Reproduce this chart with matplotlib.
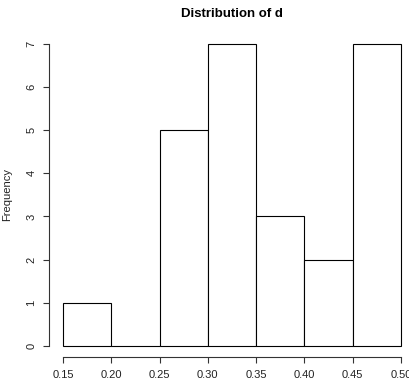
import matplotlib
matplotlib.use("Agg")
import matplotlib.pyplot as plt
import numpy as np

plt.rcParams["font.family"] = ["Liberation Sans", "DejaVu Sans"]

bin_edges = [0.15, 0.20, 0.25, 0.30, 0.35, 0.40, 0.45, 0.50]
counts = [1, 0, 5, 7, 3, 2, 7]
x_ticks = [0.15, 0.20, 0.25, 0.30, 0.35, 0.40, 0.45, 0.50]
y_ticks = [0, 1, 2, 3, 4, 5, 6, 7]

W, H = 410, 390
fig = plt.figure(figsize=(W / 100, H / 100), dpi=100)
ax = fig.add_axes([63 / W, 1 - 345.7 / H, (401 - 63) / W, (345.7 - 44) / H])

lefts = np.array(bin_edges[:-1])
widths = np.diff(bin_edges)
ax.bar(lefts, counts, widths, align="edge", facecolor="white",
       edgecolor="black", linewidth=0.8, clip_on=False)

ax.set_xlim(0.15, 0.50)
ax.set_ylim(0, 7)
for s in ("top", "right"):
    ax.spines[s].set_visible(False)
ax.spines["left"].set_position(("outward", 9.8))
ax.spines["bottom"].set_position(("outward", 8.2))
ax.spines["left"].set_bounds(0, 7)
ax.spines["bottom"].set_bounds(0.15, 0.50)
for s in ("left", "bottom"):
    ax.spines[s].set_color("#333333")
    ax.spines[s].set_linewidth(0.8)

ax.set_xticks(x_ticks)
ax.set_xticklabels([f"{v:.2f}" for v in x_ticks])
ax.set_yticks(y_ticks)
ax.set_yticklabels([str(v) for v in y_ticks], rotation=90, va="center")
ax.tick_params(axis="both", length=4.3, width=0.8, color="#333333",
               labelsize=8, labelcolor="#222222", pad=5)

ax.set_ylabel("Frequency", fontsize=8, labelpad=10, color="#222222")
fig.text((63 + 401) / 2 / W, 1 - 14 / H, "Distribution of d", ha="center",
         va="center", fontsize=9.5, fontweight="bold")

fig.savefig("out.png", dpi=100)
